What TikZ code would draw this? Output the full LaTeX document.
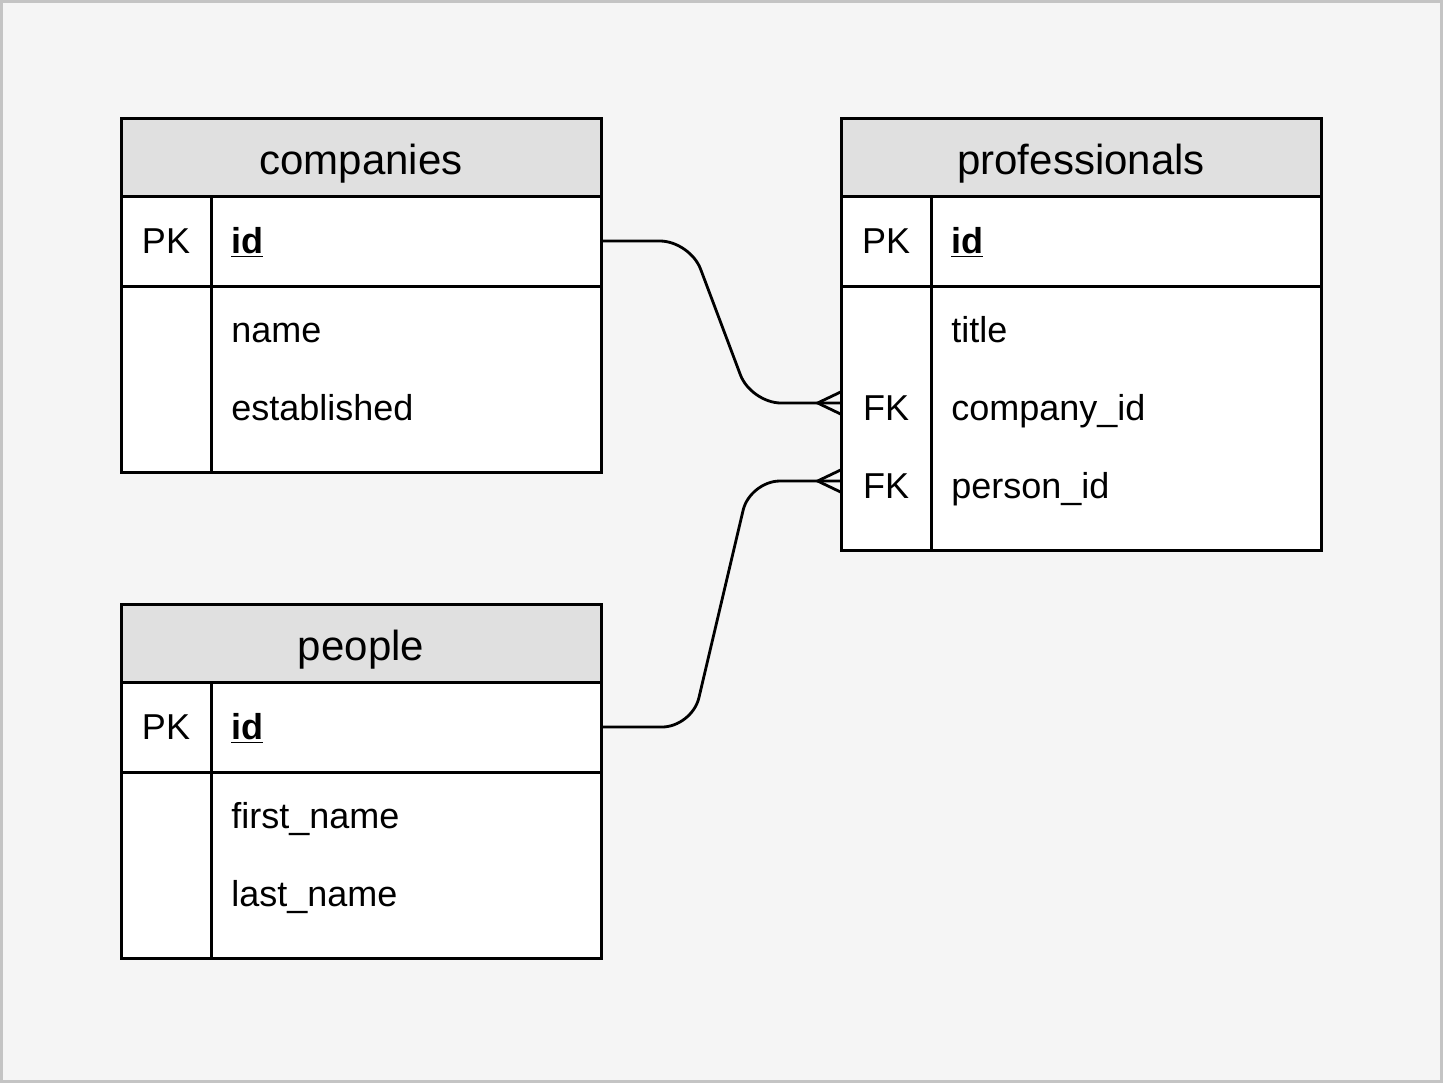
\documentclass[tikz,border=0pt]{standalone}
\usepackage{fontspec}
\setmainfont{Liberation Sans}
\definecolor{bg}{HTML}{F5F5F5}
\definecolor{bordergray}{HTML}{C4C4C4}
\definecolor{hdrgray}{HTML}{E0E0E0}
\tikzset{
 tbl/.style={draw=black, line width=1.5pt, fill=white},
 hdrfill/.style={draw=black, line width=1.5pt, fill=hdrgray},
 divider/.style={draw=black, line width=1.5pt},
 ttl/.style={anchor=base, font=\fontsize{21}{25}\selectfont, inner sep=0},
 keytxt/.style={anchor=base, font=\fontsize{18}{22}\selectfont, inner sep=0},
 fld/.style={anchor=base west, font=\fontsize{18}{22}\selectfont, inner sep=0},
 area/.style={rectangle, inner sep=0, draw=none, minimum width=240pt},
 rel/.style={line width=1.4pt, rounded corners=15pt},
 crow/.style={line width=1.4pt}
}
\begin{document}
\begin{tikzpicture}[x=0.5pt, y=-0.5pt]
\useasboundingbox (0,0) rectangle (1443,1083);
\draw[draw=bordergray, line width=1.5pt, fill=bg] (1.5,1.5) rectangle (1441.5,1081.5);

% companies
\draw[hdrfill] (121,118) rectangle (601,196);
\draw[tbl] (121,196) rectangle (601,286);
\draw[tbl] (121,286) rectangle (601,472);
\draw[divider] (211,196) -- (211,472);
\node[ttl] (c-title) at (361,174.5) {companies};
\node[area, minimum height=45pt] (c-pk) at (361,241) {};
\node[keytxt] (c-pkl) at (166,253) {PK};
\node[fld] (c-id) at (231,253) {\underline{\textbf{id}}};
\node[fld] (c-name) at (231,342) {name};
\node[fld] (c-est) at (231,420) {established};

% people
\draw[hdrfill] (121,604) rectangle (601,682);
\draw[tbl] (121,682) rectangle (601,772);
\draw[tbl] (121,772) rectangle (601,958);
\draw[divider] (211,682) -- (211,958);
\node[ttl] (pe-title) at (361,660.5) {people};
\node[area, minimum height=45pt] (pe-pk) at (361,727) {};
\node[keytxt] (pe-pkl) at (166,739) {PK};
\node[fld] (pe-id) at (231,739) {\underline{\textbf{id}}};
\node[fld] (pe-fn) at (231,828) {first\_name};
\node[fld] (pe-ln) at (231,906) {last\_name};

% professionals
\draw[hdrfill] (841,118) rectangle (1321,196);
\draw[tbl] (841,196) rectangle (1321,286);
\draw[tbl] (841,286) rectangle (1321,550);
\draw[divider] (931,196) -- (931,550);
\node[ttl] (p-title) at (1081,174.5) {professionals};
\node[keytxt] (p-pkl) at (886,253) {PK};
\node[fld] (p-id) at (951,253) {\underline{\textbf{id}}};
\node[fld] (p-title2) at (951,342) {title};
\node[area, minimum height=39pt] (p-cid) at (1081,403) {};
\node[area, minimum height=39pt] (p-pid) at (1081,481) {};
\node[keytxt] (p-fk1) at (886,420) {FK};
\node[fld] (p-cidl) at (951,420) {company\_id};
\node[keytxt] (p-fk2) at (886,498) {FK};
\node[fld] (p-pidl) at (951,498) {person\_id};

% relations
\draw[rel] (c-pk.east) -- (690,241) -- (751,403) -- (p-cid.west);
\draw[crow] (p-cid.west) ++(0,-11) -- ++(-23,11) -- ++(23,11);
\draw[rel] (pe-pk.east) -- (692,727) -- (750,481) -- (p-pid.west);
\draw[crow] (p-pid.west) ++(0,-11) -- ++(-23,11) -- ++(23,11);
\end{tikzpicture}
\end{document}
